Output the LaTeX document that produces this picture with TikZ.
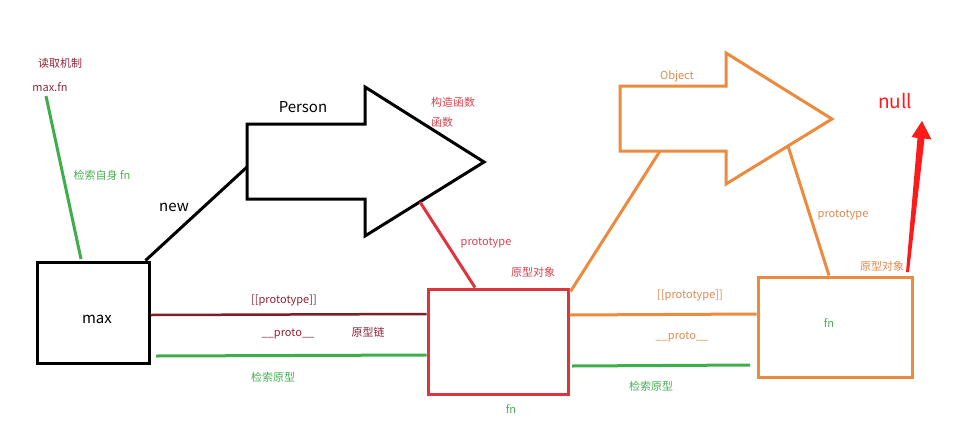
\documentclass[tikz,border=0pt]{standalone}
\usepackage{fontspec}
\setmainfont{Noto Sans CJK SC}
\definecolor{cdred}{HTML}{7E1F26}
\definecolor{cdredt}{HTML}{8E2638}
\definecolor{cred}{HTML}{E0343C}
\definecolor{credt}{HTML}{D8434F}
\definecolor{corange}{HTML}{EC8A3E}
\definecolor{corant}{HTML}{DE8A50}
\definecolor{cgreen}{HTML}{3DAE4A}
\definecolor{cgreent}{HTML}{4BAE56}
\definecolor{cnull}{HTML}{FF1A1A}
\begin{document}
\begin{tikzpicture}[x=1pt,y=-1pt,
  lbl/.style={inner sep=0pt,font=\fontsize{11}{13}\selectfont},
  big/.style={inner sep=0pt,font=\fontsize{15}{17}\selectfont},
  boxnode/.style={draw,line width=3pt,inner sep=0pt,minimum width=#1},
  lnk/.style={line width=3pt},
  shapeline/.style={line width=3pt,line join=miter}]
\useasboundingbox (0,0) rectangle (965,434);
% boxes
\node[boxnode=112pt,minimum height=101pt,draw=black] (max) at (93,312.5) {};
\node[boxnode=140pt,minimum height=105pt,draw=cred] (fnred) at (498,341.5) {};
\node[boxnode=154pt,minimum height=100pt,draw=corange] (fnor) at (835,327) {};
% arrow shapes
\draw[shapeline,black] (247,124) -- (365,124) -- (365,87) -- (484,162) -- (365,236) -- (365,199) -- (247,199) -- cycle;
\draw[shapeline,corange] (620,86) -- (726,86) -- (726,53) -- (832,119) -- (726,184) -- (726,151) -- (620,151) -- cycle;
% anchor coordinates
\coordinate (personL) at (247,167);
\coordinate (personB) at (420,202);
\coordinate (objL) at (660,151);
\coordinate (objB) at (788,146);
\coordinate (mfn) at (46,96);
\coordinate (maxtop) at (81,259);
% labels
\node[lbl,text=cdredt] (t1) at (60,63) {读取机制};
\node[lbl,text=cdredt] (t2) at (50,87) {max.fn};
\node[lbl,text=cgreent] (t3) at (102,175) {检索自身 fn};
\node[big] (t4) at (174,207) {new};
\node[big] (t5) at (303,107) {Person};
\node[lbl,text=credt] (t6) at (453,102) {构造函数};
\node[lbl,text=credt] (t7) at (442,122) {函数};
\node[lbl,text=credt] (t8) at (486,243) {prototype};
\node[lbl,text=credt] (t9) at (533,272) {原型对象};
\node[lbl,text=cdredt] (t10) at (284,300) {[[prototype]]};
\node[lbl,text=cdredt] (t11) at (288,334) {\_\_proto\_\_};
\node[lbl,text=cdredt] (t12) at (368,332) {原型链};
\node[lbl,text=cgreent] (t13) at (273,377) {检索原型};
\node[big] (t14) at (97,319) {max};
\node[lbl,text=cgreent] (t15) at (511,409) {fn};
\node[lbl,text=corant] (t16) at (677,76) {Object};
\node[lbl,text=corant] (t17) at (843,215) {prototype};
\node[lbl,text=corant] (t18) at (882,266) {原型对象};
\node[inner sep=0pt,font=\fontsize{19}{22}\selectfont,text=cnull] (t19) at (895,101) {null};
\node[lbl,text=corant] (t20) at (690,295) {[[prototype]]};
\node[lbl,text=corant] (t21) at (682,337) {\_\_proto\_\_};
\node[lbl,text=cgreent] (t22) at (651,386) {检索原型};
\node[lbl,text=cgreent] (t23) at (829,323) {fn};
% connectors
\draw[lnk,cgreen] (mfn) -- (maxtop);
\draw[lnk,black] (max.north east) ++(-5,0) coordinate (newstart) (newstart) -- (personL);
\draw[lnk,cred] (personB) -- (fnred.north -| 475,0);
\draw[line width=2.5pt,cdred] (max.east |- 0,315) -- (fnred.west |- 0,314);
\draw[lnk,cgreen] (156,356) coordinate (g1) (g1) -- (fnred.west |- 0,355);
\draw[lnk,corange] (fnred.east |- 0,315) -- (fnor.west |- 0,314);
\draw[lnk,cgreen] (572,366) coordinate (g2) (g2) -- (750,365) coordinate (g3);
\draw[lnk,corange] (fnred.north east) ++(1,4) coordinate (ostart) (ostart) -- (objL);
\draw[lnk,corange] (objB) -- (fnor.north -| 829,0);
\fill[cnull] (906,272) -- (917.5,138) -- (911.5,137) -- (922,121) -- (931.5,139.5) -- (924.5,138.5) -- (909,272) -- cycle;
\end{tikzpicture}
\end{document}
